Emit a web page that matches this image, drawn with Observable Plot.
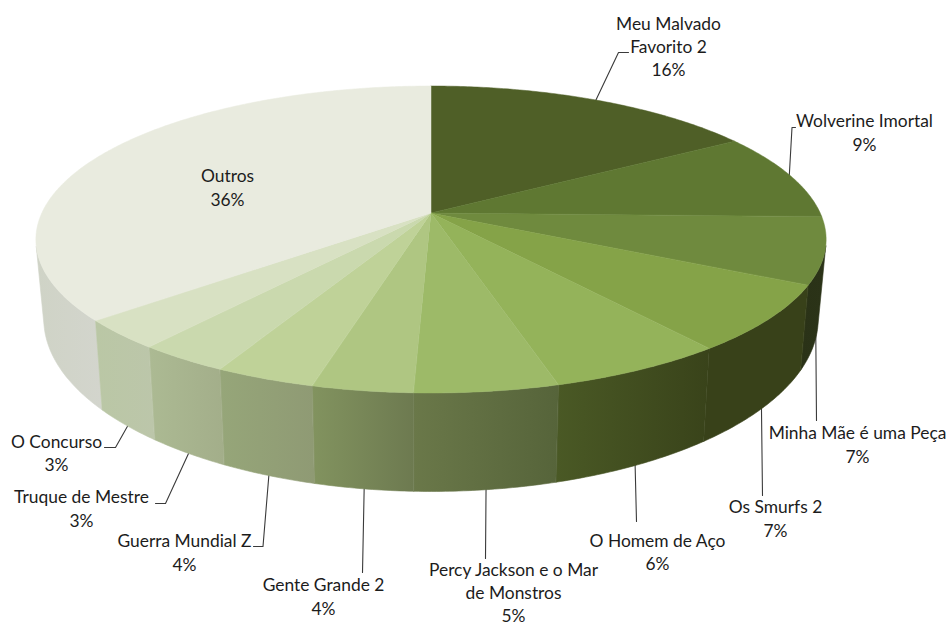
<!DOCTYPE html>
<html><head><meta charset="utf-8">
<script src="https://cdn.jsdelivr.net/npm/d3@7"></script>
<script src="https://cdn.jsdelivr.net/npm/@observablehq/plot@0.6"></script>
<style>html,body{margin:0;padding:0;background:#fff}svg{display:block}</style>
</head><body><div id="chart"></div>
<script>
// --- data
const names = ["Meu Malvado\nFavorito 2","Wolverine Imortal","Minha Mãe é uma Peça","Os Smurfs 2","O Homem de Aço","Percy Jackson e o Mar\nde Monstros","Gente Grande 2","Guerra Mundial Z","Truque de Mestre","O Concurso","Outros"];
const shares = [16.2,9.2,7.0,7.0,6.2,5.0,3.5,3.5,3.2,3.1,36.1];

// --- styles
const topColors = ["#4f5f27","#5f7832","#6f8a3e","#85a348","#94b35a","#9dba68","#afc682","#bfd298","#cad9ae","#d8e1c3","#e9ebdf"];
const wallLeft  = ["#3b4720","#47582a","#2a3217","#384119","#4a5925","#6a7849","#82935f","#96a679","#acba93","#bac7a5","#cfd3c6"];
const wallRight = ["#3b4720","#47582a","#2b3318","#384119","#39431a","#56643a","#6d7a50","#8f9a74","#a3ae8a","#bcc6aa","#d3d5cd"];

// --- layout
const proj = {k:389.2, a:148.9, c:-0.1726, depth:76, sx:0.98, sy:1.125};
const labelAt = [[668,45],[864,131],[857,443],[775,517],[657,550.5],[513,591],[323,595],[184,551],[81,507],[56,451.5],[227,186]];
const leaderEnds = [
  [[618,52],[628,52]], [[791.5,127],[795,127]], [[816,420]], [[762,495]], [[636,521]],
  [[485,558]], [[362,572]], [[262.5,546],[253,546]], [[165,503],[155,503]], [[115,447],[104,447]], null
];
const leaderOnBase = [false,false,true,true,true,true,true,true,true,true,false];

// --- geometry derived from the shares
const total = d3.sum(shares);
const cuts = [0, ...d3.cumsum(shares)].map(v => v / total * 2 * Math.PI);
const rim = t => {
  const x = Math.sin(t), y = -Math.cos(t), w = 1 + proj.c * y;
  return {X: proj.k * x / w, Y: proj.a * y / w};
};
const base = p => ({X: p.X * proj.sx, Y: proj.depth + p.Y * proj.sy});
const arc = i => {
  const n = Math.max(2, Math.ceil((cuts[i+1]-cuts[i]) / 0.01));
  return d3.range(n + 1).map(j => cuts[i] + (cuts[i+1]-cuts[i]) * j / n);
};
// a wall point is seen only while the rim runs leftwards across the depth direction
const visible = t => {
  const p = rim(t), q = rim(t + 0.001), b = base(p);
  return (q.X - p.X) * (b.Y - p.Y) - (q.Y - p.Y) * (b.X - p.X) < 0;
};

const defs = () => {
  const s = document.createElementNS("http://www.w3.org/2000/svg","defs");
  s.innerHTML = names.map((_, i) =>
    `<linearGradient id="w${i}" x1="0" x2="1" y1="0" y2="0"><stop offset="0" stop-color="${wallLeft[i]}"/><stop offset="1" stop-color="${wallRight[i]}"/></linearGradient>`).join("");
  return s;
};

const leaders = names.flatMap((_, i) => {
  if (!leaderEnds[i]) return [];
  const mid = rim((cuts[i] + cuts[i+1]) / 2);
  const s = leaderOnBase[i] ? base(mid) : mid;
  const pts = [[s.X * 0.995, s.Y * 0.995], ...leaderEnds[i].map(([px, py]) => [px - 431, py - 213])];
  return pts.map(([X, Y]) => ({i, X, Y}));
});

const wallOrder = [10,2,3,4,5,6,7,8,9];
const chart = Plot.plot({
  width: 951, height: 625,
  margin: 0,
  x: {domain: [-431, 520], range: [0, 951], axis: null},
  y: {domain: [-213, 412], range: [0, 625], axis: null},
  style: {background: "#fff"},
  marks: [
    defs,
    Plot.line(leaders, {x: "X", y: "Y", z: "i", stroke: "#3a3a3a", strokeWidth: 1.1, curve: "linear"}),
    ...wallOrder.map(i => {
      const pts = arc(i).filter(visible).map(t => { const p = rim(t), b = base(p); return {x1:p.X, y1:p.Y, x2:b.X, y2:b.Y}; });
      return Plot.area(pts, {x1:"x1", y1:"y1", x2:"x2", y2:"y2", fill:`url(#w${i})`, stroke:`url(#w${i})`, strokeWidth:0.6, curve:"linear"});
    }),
    ...names.map((_, i) => {
      const pts = arc(i).map(t => { const p = rim(t); return {x:p.X, y:p.Y}; });
      return Plot.area(pts, {x1: () => 0, y1: () => 0, x2:"x", y2:"y", fill: topColors[i], stroke: topColors[i], strokeWidth:0.5, curve:"linear"});
    }),
    Plot.text(names.map((n, i) => ({
        t: `${n}\n${Math.round(shares[i])}%`, X: labelAt[i][0] - 431, Y: labelAt[i][1] - 213
      })), {x:"X", y:"Y", text:"t", fontFamily:"Lato, 'Open Sans', sans-serif", fontSize:17.4, lineHeight:1.345, fill:"#1c1c1c", textAnchor:"middle", lineAnchor:"middle"})
  ]
});
document.getElementById("chart").append(chart);
</script></body></html>
